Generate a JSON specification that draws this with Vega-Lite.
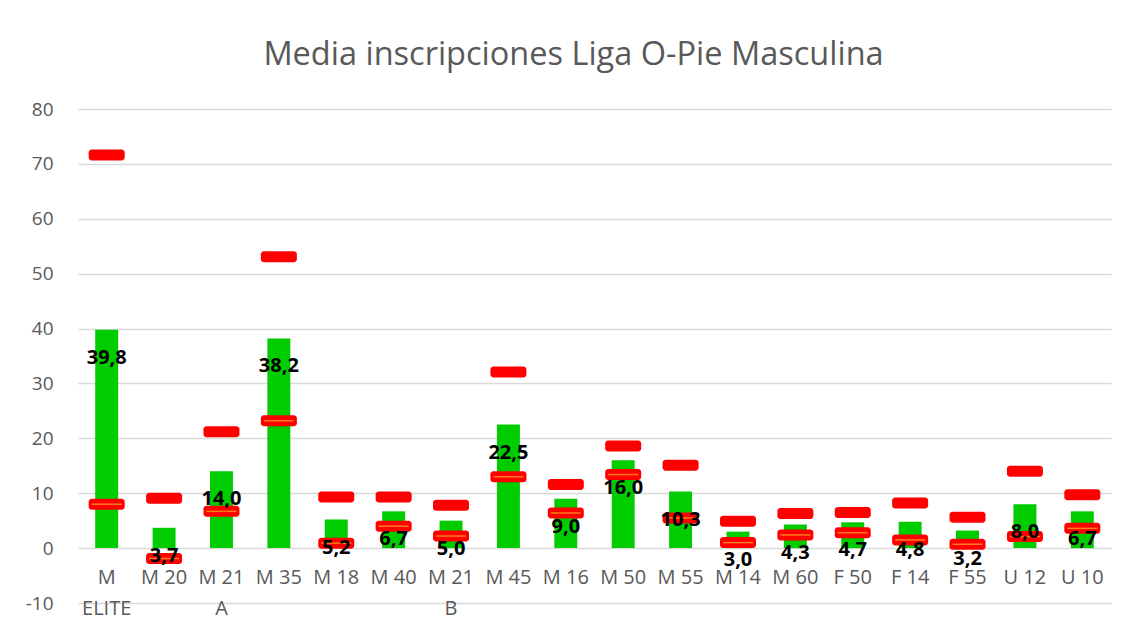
{
  "$schema": "https://vega.github.io/schema/vega-lite/v6.json",
  "width": 1033,
  "height": 494,
  "autosize": {"type": "none"},
  "padding": {"left": 78, "top": 109, "right": 20, "bottom": 28},
  "background": "white",
  "title": {
    "text": "Media inscripciones Liga O-Pie Masculina",
    "fontSize": 32.5,
    "font": "Open Sans",
    "fontWeight": "normal",
    "color": "#595959",
    "anchor": "middle",
    "dx": -21,
    "offset": 29
  },
  "data": {
    "values": [
      {"cat": "M ELITE", "media": 39.8, "max": 71.6, "min": 8.0},
      {"cat": "M 20", "media": 3.7, "max": 9.1, "min": -1.9},
      {"cat": "M 21 A", "media": 14.0, "max": 21.2, "min": 6.7},
      {"cat": "M 35", "media": 38.2, "max": 53.1, "min": 23.2},
      {"cat": "M 18", "media": 5.2, "max": 9.3, "min": 0.9},
      {"cat": "M 40", "media": 6.7, "max": 9.3, "min": 4.0},
      {"cat": "M 21 B", "media": 5.0, "max": 7.8, "min": 2.2},
      {"cat": "M 45", "media": 22.5, "max": 32.1, "min": 13.0},
      {"cat": "M 16", "media": 9.0, "max": 11.6, "min": 6.4},
      {"cat": "M 50", "media": 16.0, "max": 18.6, "min": 13.4},
      {"cat": "M 55", "media": 10.3, "max": 15.1, "min": 5.5},
      {"cat": "M 14", "media": 3.0, "max": 4.9, "min": 1.0},
      {"cat": "M 60", "media": 4.3, "max": 6.3, "min": 2.4},
      {"cat": "F 50", "media": 4.7, "max": 6.5, "min": 2.8},
      {"cat": "F 14", "media": 4.8, "max": 8.2, "min": 1.5},
      {"cat": "F 55", "media": 3.2, "max": 5.6, "min": 0.7},
      {"cat": "U 12", "media": 8.0, "max": 14.0, "min": 2.1},
      {"cat": "U 10", "media": 6.7, "max": 9.7, "min": 3.6}
    ]
  },
  "transform": [
    {"calculate": "replace(format(datum.media, '.1f'), '.', ',')", "as": "lbl"}
  ],
  "encoding": {
    "x": {
      "field": "cat",
      "type": "nominal",
      "sort": null,
      "title": null,
      "scale": {"paddingInner": 0.6, "paddingOuter": 0.3},
      "axis": {
        "orient": "bottom",
        "offset": -55,
        "domain": false,
        "ticks": false,
        "labelAngle": 0,
        "labelFontSize": 20,
        "labelFont": "Open Sans",
        "labelColor": "#595959",
        "labelPadding": 19,
        "labelLineHeight": 31,
        "labelBaseline": "top",
        "labelExpr": "indexof(datum.label, 'ELITE') >= 0 ? ['M', 'ELITE'] : length(datum.label) > 5 ? [substring(datum.label, 0, 4), substring(datum.label, 5)] : datum.label"
      }
    }
  },
  "layer": [
    {
      "mark": {"type": "bar", "color": "#00CC00"},
      "encoding": {
        "y": {
          "field": "media",
          "type": "quantitative",
          "title": null,
          "scale": {"domain": [-10, 80], "nice": false, "zero": false},
          "axis": {
            "values": [-10, 0, 10, 20, 30, 40, 50, 60, 70, 80],
            "domain": false,
            "ticks": false,
            "gridColor": "#D9D9D9",
            "gridWidth": 1.5,
            "labelFontSize": 19,
            "labelFont": "Open Sans",
            "labelColor": "#595959",
            "labelPadding": 25,
            "labelExpr": "datum.value < 0 ? '-' + abs(datum.value) : '' + datum.value"
          }
        }
      }
    },
    {
      "mark": {"type": "tick", "color": "#FF0000", "thickness": 11, "size": 36, "cornerRadius": 3, "opacity": 1},
      "encoding": {"y": {"field": "max", "type": "quantitative"}}
    },
    {
      "mark": {"type": "tick", "color": "#FF0000", "thickness": 11, "size": 36, "cornerRadius": 3, "opacity": 1},
      "encoding": {"y": {"field": "min", "type": "quantitative"}}
    },
    {
      "mark": {"type": "tick", "color": "#FF7A1A", "thickness": 1.5, "size": 30, "opacity": 1},
      "encoding": {"y": {"field": "min", "type": "quantitative"}}
    },
    {
      "mark": {"type": "text", "font": "Open Sans", "fontSize": 20, "fontWeight": "bold", "color": "#000000", "baseline": "middle", "dy": 28},
      "encoding": {
        "y": {"field": "media", "type": "quantitative"},
        "text": {"field": "lbl", "type": "nominal"}
      }
    }
  ],
  "config": {
    "view": {"stroke": null}
  }
}
